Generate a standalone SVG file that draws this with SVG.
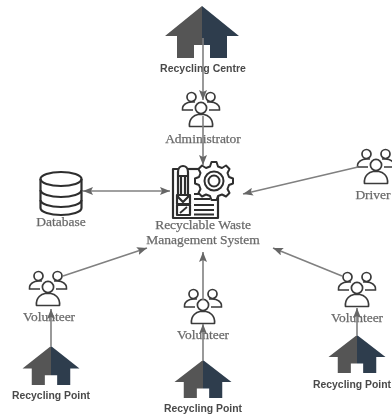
<svg xmlns="http://www.w3.org/2000/svg" xmlns:xlink="http://www.w3.org/1999/xlink" width="392" height="416" viewBox="0 0 392 416">
<style>
.s{font-family:"Liberation Serif",serif;font-size:13.5px;fill:#6a6a6a;text-anchor:middle;stroke:#6a6a6a;stroke-width:.25}
.b{font-family:"Liberation Sans",Arial,sans-serif;font-size:10.4px;font-weight:bold;fill:#4a4a4a;text-anchor:middle}
.c{stroke:#808080;stroke-width:1.6;fill:none;marker-end:url(#a)}
.i{fill:none;stroke:#3a3a3a;stroke-width:1.7;stroke-linejoin:round}
.k{fill:none;stroke:#2f2f2f;stroke-width:2.2;stroke-linejoin:round}
</style>
<defs>
<filter id="blur" x="-5%" y="-5%" width="110%" height="110%"><feGaussianBlur stdDeviation="0.5"/></filter>
<marker id="a" viewBox="0 0 10 8" refX="10" refY="4" markerWidth="10" markerHeight="8" markerUnits="userSpaceOnUse" orient="auto-start-reverse"><path d="M0 0L10 4L0 8L2 4Z" fill="#666"/></marker>
<g id="house">
<path d="M0 0L-37 30H-25V52H-8V39H0Z" fill="#555"/>
<path d="M0 0L37 30H25V52H8V39H0Z" fill="#2f3e4e"/>
</g>
<g id="people" class="i">
<circle cx="0" cy="0" r="5.6"/>
<path d="M-11.500 18.500C-12.500 10-6 7-3 6.500H3C6 7 12.500 10 11.500 18.500Z"/>
<circle cx="-9.500" cy="-11" r="4.500"/>
<circle cx="9.500" cy="-11" r="4.500"/>
<path d="M-6-6C-10-6.500-11-6.500-13-5.500C-17-4-19-1-18.500 2H-8"/>
<path d="M6-6C10-6.500 11-6.500 13-5.500C17-4 19-1 18.500 2H8"/>
</g>
</defs>
<rect width="392" height="416" fill="#fff"/>
<g filter="url(#blur)">
<g id="recycling-centre"><use href="#house" transform="translate(202,6)"/><text class="b" x="203" y="72" style="font-size:10.500px">Recycling Centre</text></g>
<g id="administrator"><use href="#people" transform="translate(201,108)"/><text class="s" x="203" y="143">Administrator</text></g>
<g id="database">
<g class="k"><ellipse cx="61" cy="179" rx="20.500" ry="7"/><path d="M40.500 179V208C40.500 212 50 215 61 215S81.500 212 81.500 208V179"/><path d="M40.500 190C40.500 194 50 197 61 197S81.500 194 81.500 190"/><path d="M40.500 200C40.500 204 50 207 61 207S81.500 204 81.500 200"/></g>
<text class="s" x="61" y="226">Database</text></g>
<g id="system">
<g class="k">
<path d="M178 169H173V218H218V196"/>
<path d="M188 169H199"/>
<path d="M178 172C178 164 188 164 188 172V197L183 202L178 197Z"/>
<path d="M178 176H188M181 176V195M185 176V195"/>
<rect x="177" y="195" width="13" height="9"/>
<rect x="177" y="205" width="13" height="10"/>
<path d="M180 213L187 207" stroke-width="1.800"/>
<path d="M194 194H212M194 199H210M194 205H214M194 210H214M194 214.500H214" stroke-width="1.800"/>
<path d="M211.500 162L216.500 162L218 166.500L222 168L226 165.500L229.500 169L227.500 173L229 177L233 178.500V183.500L229 185L227.500 189L229.500 193L226 196.500L222 194.500L218 196L216.500 200H211.500L210 196L206 194.500L202 196.500L198.500 193L200.500 189L199 185L195 183.500V178.500L199 177L200.500 173L198.500 169L202 165.500L206 168L210 166.500Z" stroke-width="2" fill="#fff"/>
<circle cx="214" cy="181" r="9.500" stroke-width="2"/><circle cx="214" cy="181" r="5.500" stroke-width="2"/>
</g>
<text class="s" x="203" y="229">Recyclable Waste</text><text class="s" x="203" y="244">Management System</text></g>
<g id="driver"><use href="#people" transform="translate(376,165)"/><text class="s" x="373" y="199">Driver</text></g>
<g id="volunteer-left"><use href="#people" transform="translate(48,287)"/><text class="s" x="49" y="321">Volunteer</text></g>
<g id="volunteer-middle"><use href="#people" transform="translate(203,305)"/><text class="s" x="203" y="339">Volunteer</text></g>
<g id="volunteer-right"><use href="#people" transform="translate(357,288)"/><text class="s" x="357" y="322">Volunteer</text></g>
<g id="point-left"><use href="#house" transform="translate(51,346) scale(.77,.75)"/><text class="b" x="51" y="399">Recycling Point</text></g>
<g id="point-middle"><use href="#house" transform="translate(203,360) scale(.77,.73)"/><text class="b" x="203" y="412">Recycling Point</text></g>
<g id="point-right"><use href="#house" transform="translate(357,335) scale(.77,.73)"/><text class="b" x="352" y="388">Recycling Point</text></g>
<g id="connectors">
<path class="c" d="M203 38V100"/>
<path class="c" d="M203 116V165"/>
<path class="c" d="M83 191H170" style="marker-start:url(#a)"/>
<path class="c" d="M358 167L243 194"/>
<path class="c" d="M63 276L147 248"/>
<path class="c" d="M203 300V252"/>
<path class="c" d="M342 276L273 248"/>
<path class="c" d="M51 346V309"/>
<path class="c" d="M203 360V324"/>
<path class="c" d="M357 335V308"/>
</g>
</g>
</svg>
